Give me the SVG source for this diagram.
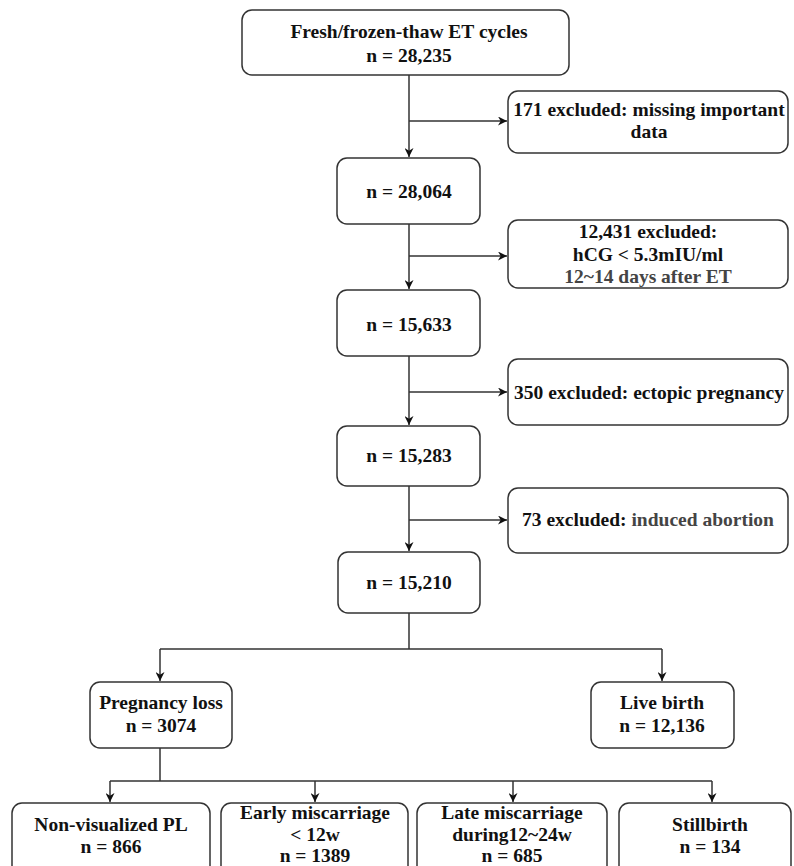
<svg xmlns="http://www.w3.org/2000/svg" width="794" height="866" viewBox="0 0 794 866">
<style>
.box{fill:#fff;stroke:#333;stroke-width:1.5}
.t{font-family:'Liberation Serif','Times New Roman',Times,'Nimbus Roman','DejaVu Serif',serif;font-weight:bold;font-size:19.5px;fill:#111;text-anchor:middle}
.g{fill:#444}
.c{fill:none;stroke:#333;stroke-width:1.5}
</style>
<defs>
<marker id="ah" viewBox="0 0 10 10" refX="10" refY="5" markerWidth="9" markerHeight="9" markerUnits="userSpaceOnUse" orient="auto">
<path d="M0,0 L10,5 L0,10 L3,5 z" fill="#111"/>
</marker>
</defs>
<g id="connectors">
<path class="c" d="M409,75 V157" marker-end="url(#ah)"/>
<path class="c" d="M409,121 H507" marker-end="url(#ah)"/>
<path class="c" d="M409,224 V289" marker-end="url(#ah)"/>
<path class="c" d="M409,256 H507" marker-end="url(#ah)"/>
<path class="c" d="M409,356 V425" marker-end="url(#ah)"/>
<path class="c" d="M409,392 H507" marker-end="url(#ah)"/>
<path class="c" d="M409,486 V551" marker-end="url(#ah)"/>
<path class="c" d="M409,520 H507" marker-end="url(#ah)"/>
<path class="c" d="M409,613 V649 M160,649 H662"/>
<path class="c" d="M160,649 V681" marker-end="url(#ah)"/>
<path class="c" d="M662,649 V681" marker-end="url(#ah)"/>
<path class="c" d="M160,748 V781 M110,781 H712"/>
<path class="c" d="M110,781 V802" marker-end="url(#ah)"/>
<path class="c" d="M315,781 V802" marker-end="url(#ah)"/>
<path class="c" d="M513,781 V802" marker-end="url(#ah)"/>
<path class="c" d="M712,781 V802" marker-end="url(#ah)"/>
</g>
<g id="n0"><rect class="box" x="242" y="10" width="327" height="65" rx="10"/>
<text class="t" x="409" y="38">Fresh/frozen-thaw ET cycles</text>
<text class="t" x="409" y="62">n = 28,235</text></g>
<g id="x1"><rect class="box" x="508" y="91" width="280" height="62" rx="10"/>
<text class="t" x="649" y="116">171 excluded: missing important</text>
<text class="t" x="649" y="138">data</text></g>
<g id="n1"><rect class="box" x="337" y="158" width="143" height="66" rx="10"/>
<text class="t" x="409" y="198">n = 28,064</text></g>
<g id="x2"><rect class="box" x="508" y="220" width="280" height="68" rx="10"/>
<text class="t" x="648" y="238">12,431 excluded:</text>
<text class="t" x="648" y="261">hCG &lt; 5.3mIU/ml</text>
<text class="t g" x="648" y="283">12~14 days after ET</text></g>
<g id="n2"><rect class="box" x="337" y="290" width="143" height="66" rx="10"/>
<text class="t" x="409" y="331">n = 15,633</text></g>
<g id="x3"><rect class="box" x="508" y="359" width="280" height="66" rx="10"/>
<text class="t" x="649" y="399">350 excluded: ectopic pregnancy</text></g>
<g id="n3"><rect class="box" x="337" y="426" width="143" height="60" rx="10"/>
<text class="t" x="409" y="462">n = 15,283</text></g>
<g id="x4"><rect class="box" x="508" y="488" width="280" height="65" rx="10"/>
<text class="t" x="648" y="526">73 excluded: <tspan class="g">induced abortion</tspan></text></g>
<g id="n4"><rect class="box" x="338" y="552" width="142" height="61" rx="10"/>
<text class="t" x="409" y="589">n = 15,210</text></g>
<g id="pl"><rect class="box" x="90" y="682" width="142" height="66" rx="10"/>
<text class="t" x="161" y="709">Pregnancy loss</text>
<text class="t" x="161" y="732">n = 3074</text></g>
<g id="lb"><rect class="box" x="591" y="682" width="143" height="66" rx="10"/>
<text class="t" x="662" y="709">Live birth</text>
<text class="t" x="662" y="732">n = 12,136</text></g>
<g id="b1"><rect class="box" x="12" y="803" width="198" height="75" rx="10"/>
<text class="t" x="111" y="831">Non-visualized PL</text>
<text class="t" x="111" y="853">n = 866</text></g>
<g id="b2"><rect class="box" x="221" y="803" width="187" height="75" rx="10"/>
<text class="t" x="315" y="819">Early miscarriage</text>
<text class="t" x="315" y="841">&lt; 12w</text>
<text class="t" x="315" y="862">n = 1389</text></g>
<g id="b3"><rect class="box" x="417" y="803" width="190" height="75" rx="10"/>
<text class="t" x="512" y="819">Late miscarriage</text>
<text class="t" x="512" y="841">during12~24w</text>
<text class="t" x="512" y="862">n = 685</text></g>
<g id="b4"><rect class="box" x="619" y="803" width="172" height="75" rx="10"/>
<text class="t" x="710" y="831">Stillbirth</text>
<text class="t" x="710" y="853">n = 134</text></g>
</svg>
